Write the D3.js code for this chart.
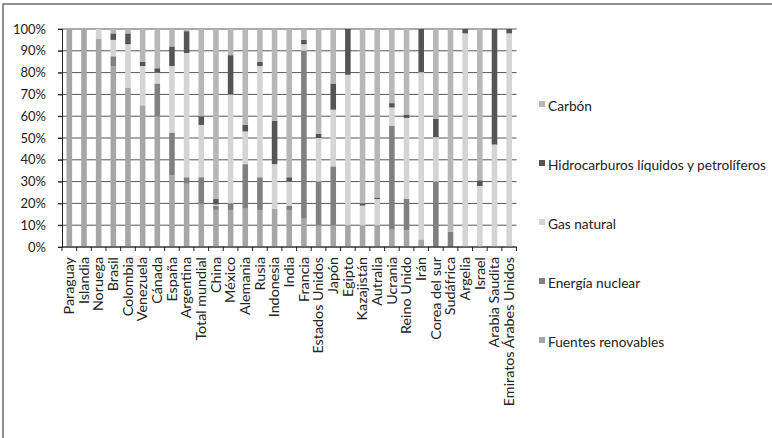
<!DOCTYPE html>
<html>
<head>
<meta charset="utf-8">
<script src="https://cdn.jsdelivr.net/npm/d3@7"></script>
<style>
  html, body { margin: 0; padding: 0; background: #fff; }
  svg { display: block; }
  text { font-family: Lato, "Open Sans", sans-serif; fill: #222; }
</style>
</head>
<body>
<svg id="chart" width="772" height="438"></svg>
<script>
const countries = ["Paraguay","Islandia","Noruega","Brasil","Colombia","Venezuela","Cánada","España","Argentina","Total mundial","China","México","Alemania","Rusia","Indonesia","India","Francia","Estados Unidos","Japón","Egipto","Kazajistán","Autralia","Ucrania","Reino Unido","Irán","Corea del sur","Sudáfrica","Argelia","Israel","Arabia Saudita","Emiratos Árabes Unidos"];

const renovables    = [100,100,95.5,83,73,65,60,33,29,20,17,17,17.6,17,17.6,17,13,10,10,10,10,10,8,7.7,3.5,0,0,0,0,0,0];
const nuclear       = [0,0,0,4.5,0,0,15,19.5,3,12,2,3,20.4,15,0,2,77,20,27,0,0,0,47.5,14.5,0,30,7,0,0,0,0];
const gasNatural    = [0,0,4.5,7.5,20,18,5,30.5,57,24,0.5,50,15,51,20.4,11,3,20,26,69,9,12,8.5,37,76.7,20.4,0,98,28,47,98];
const hidrocarburos = [0,0,0,3,5,2,2,9,10,4,2.5,18,3,2,19.8,2,2,2,12,21,1,0.7,2,1.6,19.8,8.4,0,2,2.6,53,2];
const carbon        = [0,0,0,2,2,15,18,8,1,40,78,12,44,15,42.2,68,5,48,25,0,80,77.3,34,39.2,0,41.2,93,0,69.4,0,0];

const seriesNames  = ["Fuentes renovables","Energía nuclear","Gas natural","Hidrocarburos líquidos y petrolíferos","Carbón"];
const seriesColors = ["#a6a6a6","#808080","#d4d4d4","#555555","#b7b7b7"];
const yTicks = [0,10,20,30,40,50,60,70,80,90,100];

const seriesValues = [renovables, nuclear, gasNatural, hidrocarburos, carbon];
const keys = ["s0","s1","s2","s3","s4"];
const table = countries.map((c, i) => {
  const row = { country: c };
  keys.forEach((k, j) => row[k] = seriesValues[j][i]);
  return row;
});

const svg = d3.select("#chart");

// outer frame (top and left edges visible)
svg.append("rect").attr("x", 3).attr("y", 4).attr("width", 800).attr("height", 500)
  .attr("fill", "none").attr("stroke", "#555").attr("stroke-width", 1.3);

const pLeft = 62, pRight = 516.5, pTop = 29, pBottom = 247;

const x = d3.scaleBand().domain(countries).range([pLeft, pRight]).paddingInner(0.62).paddingOuter(0.31);
const y = d3.scaleLinear().domain([0, 100]).range([pBottom, pTop]);

// gridlines
svg.append("g").selectAll("line").data(yTicks).join("line")
  .attr("x1", pLeft - 4).attr("x2", pRight)
  .attr("y1", d => y(d)).attr("y2", d => y(d))
  .attr("stroke", "#555").attr("stroke-width", 1);

// bars
const stack = d3.stack().keys(keys)(table);
svg.append("g").selectAll("g").data(stack).join("g")
  .attr("fill", (d, i) => seriesColors[i])
  .selectAll("rect").data(d => d).join("rect")
  .attr("x", d => x(d.data.country))
  .attr("width", x.bandwidth())
  .attr("y", d => y(d[1]))
  .attr("height", d => Math.max(0, y(d[0]) - y(d[1])));

// y axis
const yAxis = svg.append("g").attr("transform", `translate(${pLeft},0)`)
  .call(d3.axisLeft(y).tickValues(yTicks).tickFormat(d => d + "%").tickSize(4).tickPadding(12));
yAxis.select(".domain").attr("stroke", "#222");
yAxis.selectAll(".tick line").attr("stroke", "#222");
yAxis.selectAll("text").attr("font-size", 13).attr("font-family", "Lato, sans-serif").attr("fill", "#222");

// x axis line + boundary ticks
const boundaries = d3.range(countries.length + 1).map(i => pLeft + i * (pRight - pLeft) / countries.length);
const xg = svg.append("g");
xg.append("line").attr("x1", pLeft).attr("x2", pRight).attr("y1", pBottom).attr("y2", pBottom)
  .attr("stroke", "#222").attr("stroke-width", 1);
xg.selectAll("line.tk").data(boundaries).join("line").attr("class", "tk")
  .attr("x1", d => d).attr("x2", d => d).attr("y1", pBottom).attr("y2", pBottom + 4)
  .attr("stroke", "#222");

// category labels
xg.selectAll("text").data(countries).join("text")
  .attr("transform", d => `translate(${x(d) + x.bandwidth() / 2 + 4.8},${pBottom + 10}) rotate(-90)`)
  .attr("text-anchor", "end")
  .attr("font-size", 14.3)
  .text(d => d);

// legend (top of stack first)
const legendOrder = [4, 3, 2, 1, 0];
const lg = svg.append("g");
legendOrder.forEach((si, k) => {
  const ly = 108 + k * 59;
  lg.append("rect").attr("x", 539).attr("y", ly - 7).attr("width", 6).attr("height", 6)
    .attr("fill", seriesColors[si]);
  lg.append("text").attr("x", 548).attr("y", ly + 3).attr("font-size", 13.7).text(seriesNames[si]);
});
</script>
</body>
</html>
